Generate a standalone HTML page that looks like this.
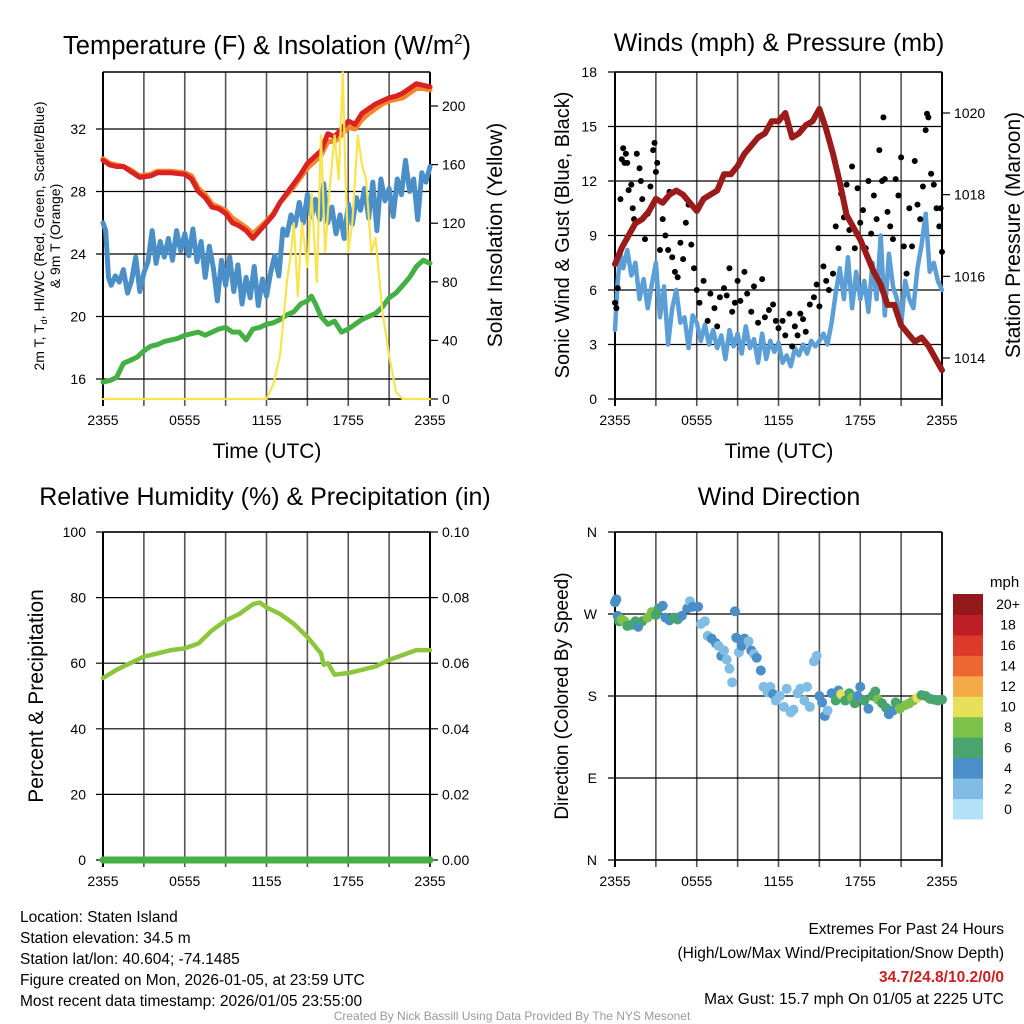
<!DOCTYPE html>
<html><head><meta charset="utf-8">
<style>
html,body{margin:0;padding:0;background:#fff;}
svg{display:block;font-family:"Liberation Sans",sans-serif;}
</style></head>
<body>
<svg id="chart" width="1024" height="1024" viewBox="0 0 1024 1024" xmlns="http://www.w3.org/2000/svg">
<rect width="1024" height="1024" fill="#fff"/>
<g id="layer"></g>
<!-- titles -->
<text x="267" y="54" font-size="25.5" text-anchor="middle">Temperature (F) &amp; Insolation (W/m<tspan font-size="15" dy="-10">2</tspan><tspan dy="10">)</tspan></text>
<text x="779" y="51" font-size="25" text-anchor="middle">Winds (mph) &amp; Pressure (mb)</text>
<text x="265" y="505" font-size="25" text-anchor="middle">Relative Humidity (%) &amp; Precipitation (in)</text>
<text x="779" y="505" font-size="25" text-anchor="middle">Wind Direction</text>
<!-- axis titles -->
<text transform="translate(44,236) rotate(-90)" font-size="14" text-anchor="middle">2m T, T<tspan font-size="9" dy="3">d</tspan><tspan dy="-3">, HI/WC (Red, Green, Scarlet/Blue)</tspan></text>
<text transform="translate(60,236) rotate(-90)" font-size="14" text-anchor="middle">&amp; 9m T (Orange)</text>
<text transform="translate(502,235) rotate(-90)" font-size="21" text-anchor="middle">Solar Insolation (Yellow)</text>
<text x="267" y="458" font-size="21" text-anchor="middle">Time (UTC)</text>
<text transform="translate(569,235) rotate(-90)" font-size="20" text-anchor="middle">Sonic Wind &amp; Gust (Blue, Black)</text>
<text transform="translate(1020,235) rotate(-90)" font-size="21" text-anchor="middle">Station Pressure (Maroon)</text>
<text x="779" y="458" font-size="21" text-anchor="middle">Time (UTC)</text>
<text transform="translate(43,696) rotate(-90)" font-size="21" text-anchor="middle">Percent &amp; Precipitation</text>
<text transform="translate(568,696) rotate(-90)" font-size="19" text-anchor="middle">Direction (Colored By Speed)</text>
<text x="990" y="587" font-size="15">mph</text>
<!-- footer -->
<g font-size="15.5">
<text x="20" y="922">Location: Staten Island</text>
<text x="20" y="943">Station elevation: 34.5 m</text>
<text x="20" y="964">Station lat/lon: 40.604; -74.1485</text>
<text x="20" y="985">Figure created on Mon, 2026-01-05, at 23:59 UTC</text>
<text x="20" y="1006">Most recent data timestamp: 2026/01/05 23:55:00</text>
</g>
<g font-size="15.5" text-anchor="end">
<text x="1004" y="934">Extremes For Past 24 Hours</text>
<text x="1004" y="958">(High/Low/Max Wind/Precipitation/Snow Depth)</text>
<text x="1004" y="982" fill="#cc1f1f" font-weight="bold">34.7/24.8/10.2/0/0</text>
<text x="1004" y="1004">Max Gust: 15.7 mph On 01/05 at 2225 UTC</text>
</g>
<text x="512" y="1020" font-size="12" fill="#999" text-anchor="middle">Created By Nick Bassill Using Data Provided By The NYS Mesonet</text>
</svg>
<script>
// ---------- data ----------
const timeTickLabels = ["2355","0555","1155","1755","2355"];
const tempHours = [0,0.5,1,1.5,2,2.7,3.5,4,5,6,6.5,7,7.5,8,8.5,9,9.5,10,10.5,11,11.5,12,12.5,13,13.5,14,14.5,15,15.5,16,16.5,17,17.5,18,18.5,19,19.5,20,20.5,21,21.5,22,22.5,23,23.5,24];
const tempRed = [30.0,29.7,29.6,29.6,29.3,28.9,29.0,29.2,29.2,29.1,28.8,28.0,27.6,27.0,26.9,26.6,26.0,25.8,25.5,25.0,25.5,26.0,26.5,27.3,27.9,28.5,29.1,29.8,30.2,30.6,31.7,31.5,32.0,32.5,32.3,33.0,33.3,33.6,33.8,34.0,34.1,34.3,34.6,34.9,34.8,34.7];
const tempOrange = [30.1,29.8,29.7,29.6,29.4,29.0,29.1,29.3,29.3,29.2,29.0,28.2,27.8,27.2,27.0,26.8,26.3,26.0,25.7,25.3,25.7,26.1,26.6,27.3,27.8,28.3,28.9,29.5,29.9,30.3,31.2,31.2,31.6,32.1,32.0,32.6,33.0,33.3,33.6,33.8,33.9,34.0,34.3,34.6,34.6,34.5];
const windChillHours = [0,0.2,0.4,0.6,0.9,1.2,1.5,1.8,2.1,2.4,2.7,3.0,3.3,3.6,3.9,4.2,4.5,4.8,5.1,5.4,5.7,6.0,6.3,6.6,6.9,7.2,7.5,7.8,8.1,8.4,8.7,9.0,9.3,9.6,9.9,10.2,10.5,10.8,11.1,11.4,11.7,12.0,12.3,12.6,12.9,13.0,13.2,13.5,13.8,14.1,14.4,14.7,15.0,15.3,15.6,15.9,16.2,16.5,16.8,17.1,17.4,17.7,18.0,18.3,18.6,18.9,19.2,19.5,19.8,20.1,20.4,20.7,21.0,21.3,21.6,21.9,22.2,22.5,22.8,23.1,23.4,23.7,24.0];
const windChill = [26.0,25.5,22.5,22.0,22.6,22.2,23.0,21.5,22.3,23.8,21.6,22.8,23.5,25.5,23.4,24.8,23.8,25.0,23.6,25.5,24.2,25.3,23.9,25.6,23.5,24.8,22.5,24.5,23.1,21.0,23.6,22.0,23.8,21.6,23.3,20.8,22.5,21.2,23.2,20.7,22.4,21.3,22.8,23.9,22.6,23.5,25.6,25.2,26.5,25.8,27.3,26.0,27.8,26.4,27.5,26.2,28.5,26.0,27.0,25.3,26.5,25.0,27.2,25.9,27.6,26.8,28.2,26.3,28.6,25.5,28.8,27.4,28.2,26.4,28.8,27.8,30.0,28.0,28.8,26.2,29.2,28.6,29.6];
const dewHours = [0,0.5,1,1.5,2,2.5,3,3.5,4,4.5,5,5.5,6,6.5,7,7.5,8,8.5,9,9.5,10,10.5,11,11.5,12,12.5,13,13.5,14,14.5,15,15.3,15.6,16,16.5,17,17.5,18,18.5,19,19.5,20,20.5,21,21.5,22,22.5,23,23.5,24];
const dewPoint = [15.8,15.9,16.1,17.0,17.2,17.4,17.8,18.1,18.2,18.4,18.5,18.6,18.8,18.9,19.0,18.8,19.0,19.2,19.3,19.0,19.0,18.5,19.2,19.3,19.5,19.6,19.8,20.1,20.3,20.8,21.0,21.3,20.8,20.0,19.5,19.7,19.0,19.2,19.5,19.8,20.0,20.2,20.6,21.2,21.5,22.0,22.5,23.2,23.6,23.4];
const solarHours = [0,12,12.5,13,13.5,13.8,14,14.3,14.6,15,15.3,15.7,16,16.3,16.6,17,17.3,17.6,17.8,18,18.3,18.7,19,19.3,19.7,20,20.5,21,21.5,22,24];
const solar = [0,0,10,30,80,100,120,70,120,90,140,80,180,100,140,180,150,223,150,100,120,180,160,150,100,110,60,30,5,0,0];
const windHours = [0,0.2,0.4,0.6,0.9,1.2,1.5,1.8,2.1,2.4,2.7,3.0,3.3,3.6,3.9,4.2,4.5,4.8,5.1,5.4,5.7,6.0,6.3,6.6,6.9,7.2,7.5,7.8,8.1,8.4,8.7,9.0,9.3,9.6,9.9,10.2,10.5,10.8,11.1,11.4,11.7,12.0,12.3,12.6,12.9,13.2,13.5,13.8,14.1,14.4,14.7,15.0,15.3,15.6,15.9,16.2,16.5,16.8,17.1,17.4,17.7,18.0,18.3,18.6,18.9,19.2,19.5,19.8,20.1,20.4,20.7,21.0,21.3,21.6,21.9,22.2,22.5,22.8,23.1,23.4,23.7,24.0];
const windSpeed = [3.8,6.5,8.0,7.2,8.2,6.8,7.5,5.5,6.6,5.0,6.3,7.5,4.5,6.2,3.0,5.0,6.0,4.2,4.5,2.8,4.6,4.2,3.2,4.1,3.0,3.8,2.8,3.5,2.2,3.8,2.9,3.6,2.5,4.0,2.8,3.3,2.0,3.6,2.2,3.2,2.6,3.1,2.0,2.4,1.8,2.8,2.4,3.0,2.5,3.2,2.9,3.2,3.6,3.0,4.2,5.8,7.2,5.5,7.8,5.0,7.0,5.5,6.5,4.8,7.5,5.5,9.0,4.6,8.0,6.2,5.5,4.0,6.5,5.5,5.0,7.2,8.5,10.2,7.0,7.5,6.5,6.0];
const gustHours = [0.0,0.1,0.2,0.4,0.5,0.6,0.7,0.8,0.9,1.0,1.2,1.3,1.4,1.6,1.8,1.9,2.0,2.2,2.4,2.6,2.8,2.9,3.0,3.1,3.3,3.5,3.7,3.9,4.0,4.2,4.4,4.6,4.8,5.0,5.2,5.4,5.6,5.8,6.0,6.2,6.5,6.8,7.0,7.3,7.5,7.7,8.0,8.2,8.4,8.6,8.8,9.0,9.2,9.5,9.7,10.0,10.2,10.5,10.8,11.0,11.3,11.6,11.8,12.0,12.3,12.5,12.8,13.0,13.2,13.4,13.6,13.8,14.0,14.3,14.6,14.8,15.0,15.3,15.5,15.7,16.0,16.2,16.4,16.6,16.8,17.0,17.2,17.4,17.6,17.8,18.0,18.2,18.4,18.6,18.8,19.0,19.2,19.4,19.6,19.7,19.8,20.0,20.2,20.4,20.6,20.8,21.0,21.2,21.4,21.6,21.8,22.0,22.2,22.4,22.6,22.8,22.9,23.0,23.2,23.4,23.6,23.8,23.9,24.0];
const gustSpeed = [5.3,5.0,6.1,11.0,13.2,13.8,13.0,13.5,13.0,11.5,11.8,10.5,9.9,13.5,12.7,12.0,11.0,8.8,10.2,11.7,13.7,14.1,12.5,13.0,8.2,9.9,9.0,8.2,11.4,7.8,7.0,6.7,8.6,7.7,9.7,10.7,8.5,7.2,6.0,5.3,6.5,4.3,5.8,5.0,4.0,5.6,6.1,5.7,7.2,4.8,5.3,6.5,5.4,7.0,5.8,4.8,6.2,4.2,6.6,4.5,4.9,5.2,4.3,3.9,4.3,3.5,4.7,2.9,4.0,3.5,4.7,4.4,3.7,5.2,5.6,6.3,5.1,7.3,6.5,6.0,6.9,9.5,8.3,11.3,10.0,11.8,9.3,12.8,8.3,11.6,9.7,10.4,8.3,12.0,9.1,11.2,9.9,13.7,12.0,15.5,12.1,10.3,9.5,8.8,12.1,11.2,13.3,8.4,6.9,10.5,8.4,13.1,10.7,9.9,11.7,14.8,15.7,15.5,12.4,11.8,10.5,9.5,10.5,8.1];
const pressHours = [0,0.5,1,1.5,2,2.5,3,3.5,4,4.5,5,5.5,6,6.5,7,7.5,8,8.5,9,9.5,10,10.5,11,11.5,12,12.5,13,13.5,14,14.5,15,15.5,16,16.5,17,17.5,18,18.5,19,19.5,20,20.5,21,21.5,22,22.5,23,23.5,24];
const pressure = [1016.3,1016.7,1017.0,1017.3,1017.4,1017.6,1017.9,1017.8,1018.0,1018.1,1018.0,1017.8,1017.6,1017.9,1018.0,1018.1,1018.5,1018.5,1018.7,1019.0,1019.2,1019.4,1019.5,1019.8,1019.8,1020.0,1019.4,1019.5,1019.7,1019.8,1020.1,1019.6,1019.0,1018.3,1017.5,1017.2,1016.9,1016.5,1016.1,1015.8,1015.3,1015.3,1014.8,1014.6,1014.4,1014.5,1014.3,1014.0,1013.7];
const rhHours = [0,1,2,3,4,5,6,7,8,9,10,11,11.5,12,13,14,15,16,16.2,16.5,17,18,19,20,21,22,23,24];
const rh = [55.5,58,60,62,63,64,64.5,66,70,73,75,78,78.5,77,75,72,68,63,59.5,60,56.5,57,58,59,61,62.5,64,64];
const precipHours = [0,24];
const precip = [0,0];
const dirHours = [0.0,0.1,0.2,0.3,0.5,0.7,0.9,1.2,1.5,1.7,2.0,2.4,2.7,3.0,3.2,3.5,3.7,4.0,4.3,4.6,4.9,5.3,5.5,5.7,6.1,6.3,6.6,6.8,7.1,7.4,7.6,7.8,8.0,8.2,8.4,8.6,8.8,8.9,9.1,9.3,9.5,9.8,10.0,10.2,10.4,10.7,10.9,11.2,11.4,11.6,11.8,12.1,12.4,12.6,12.9,13.1,13.4,13.6,13.9,14.1,14.3,14.6,14.8,15.0,15.2,15.4,15.6,15.9,16.2,16.4,16.6,16.9,17.2,17.4,17.6,17.8,18.0,18.3,18.6,18.9,19.1,19.3,19.6,19.9,20.1,20.4,20.6,20.9,21.3,21.6,21.9,22.2,22.5,22.8,23.1,23.4,23.7,24.0];
const dirDeg = [283,286,268,262,264,262,257,258,262,256,262,266,272,269,276,279,266,263,266,264,268,276,284,278,278,259,262,246,243,238,235,224,230,220,210,195,273,244,228,235,243,240,230,226,222,208,190,184,190,182,175,180,168,188,162,165,183,188,175,190,168,218,224,180,173,158,164,183,175,186,182,175,183,178,172,180,190,175,166,180,185,176,172,167,160,164,173,166,170,172,175,178,181,180,177,176,175,176];
const dirSpeed = [5,4,5,7,8,8,6,6,7,5,7,8,8,6,7,4,5,5,6,6,4,4,3,4,4,2,2,2,4,4,2,4,2,2,2,2,4,4,2,4,4,2,4,3,4,4,2,2,2,4,2,2,2,2,2,2,2,2,2,2,2,2,2,4,4,4,2,4,6,4,10,6,6,8,6,4,4,6,4,6,6,8,6,6,4,4,6,8,8,8,8,10,6,6,6,6,6,6];
const speedBinLabels = ["0","2","4","6","8","10","12","14","16","18","20+"];
const speedBinColors = ["#b3e2f7","#80bce4","#4a8fc7","#48a56e","#7dc14b","#e6e05b","#f5aa48","#ee6631","#dd3a2c","#be1e26","#93181b"];
const tempTicks = [16,20,24,28,32];
const solarTicks = [0,40,80,120,160,200];
const windTicks = [0,3,6,9,12,15,18];
const pressTicks = [1014,1016,1018,1020];
const rhTicks = [0,20,40,60,80,100];
const precipTicks = ["0.00","0.02","0.04","0.06","0.08","0.10"];
const dirTicks = ["N","E","S","W","N"];

// ---------- helpers ----------
const NS = "http://www.w3.org/2000/svg";
const layer = document.getElementById("layer");
function mk(tag, attrs, parent) {
  const el = document.createElementNS(NS, tag);
  for (const k in attrs) el.setAttribute(k, attrs[k]);
  (parent || layer).appendChild(el);
  return el;
}
function lin(d0, d1, r0, r1) { return v => r0 + (v - d0) * (r1 - r0) / (d1 - d0); }

const L0 = 103, L1 = 430, R0 = 615, R1 = 942;
const T0 = 72, T1 = 399, B0 = 532, B1 = 860;
const xL = lin(0, 24, L0, L1), xR = lin(0, 24, R0, R1);
const yTemp = lin(16, 32, 379, 129);
const ySolar = lin(0, 200, 399, 106);
const yWind = lin(0, 18, 399, 72);
const yPress = lin(1014, 1020, 358, 113);
const yRh = lin(0, 100, 860, 532);
const yPrecip = lin(0, 0.1, 860, 532);
const yDir = lin(0, 360, 860, 532);

function frame(x0, x1, y0, y1, yVals, yFn, name) {
  const g = mk("g", {});
  
  
  for (let i = 0; i <= 8; i++) {
    const x = x0 + i * (x1 - x0) / 8;
    const vl = mk("line", {x1: x, x2: x, y1: y0, y2: y1 + 7, stroke: i === 0 || i === 8 ? "#000" : "#555", "stroke-width": i === 0 ? 2 : 1.6}, g);
    
    
  }
  yVals.forEach(v => {
    const y = yFn(v);
    const hl = mk("line", {x1: x0 - 7, x2: x1, y1: y, y2: y, stroke: "#000", "stroke-width": 1.2}, g);
    
    
  });
  const top = mk("line", {x1: x0, x2: x1, y1: y0, y2: y0, stroke: "#000", "stroke-width": 1.5}, g);
  
  
  const bot = mk("line", {x1: x0, x2: x1, y1: y1, y2: y1, stroke: "#000", "stroke-width": 1.5}, g);
  
  
  timeTickLabels.forEach((t, i) => {
    const tx = mk("text", {x: x0 + i * (x1 - x0) / 4, y: y1 + 26, "font-size": 14, "text-anchor": "middle"}, g);
    tx.textContent = t;
    
    
  });
}
function leftLabels(vals, fn, x, labels) {
  vals.forEach((v, i) => {
    const t = mk("text", {x: x, y: fn(v) + 5, "font-size": 14, "text-anchor": "end"});
    t.textContent = labels ? labels[i] : v;
    
    
  });
}
function rightAxis(vals, fn, x, labels, minorStep, lo, hi) {
  vals.forEach((v, i) => {
    const tk = mk("line", {x1: x, x2: x + 8, y1: fn(v), y2: fn(v), stroke: "#000", "stroke-width": 1.2});
    
    
    const t = mk("text", {x: x + 12, y: fn(v) + 5, "font-size": 14});
    t.textContent = labels ? labels[i] : v;
    
    
  });
  const ax = mk("line", {x1: x, x2: x, y1: fn(hi), y2: fn(lo), stroke: "#000", "stroke-width": 2});
  
  
}
function path(xs, ys, xf, yf, color, w, name) {
  const d = xs.map((h, i) => (i ? "L" : "M") + xf(h).toFixed(1) + "," + yf(ys[i]).toFixed(1)).join("");
  const p = mk("path", {d: d, fill: "none", stroke: color, "stroke-width": w, "stroke-linejoin": "round", "stroke-linecap": "round"});
  
  
  return p;
}

// ---------- panel 1: temperature ----------
frame(L0, L1, T0, T1, tempTicks, yTemp, "temperature");
leftLabels(tempTicks, yTemp, 86);
rightAxis(solarTicks, ySolar, L1, null, 0, 0, 223);
path(tempHours, tempOrange, xL, yTemp, "#f5852a", 5, "9m-temperature-line");
path(tempHours, tempRed, xL, yTemp, "#d92323", 5, "2m-temperature-line");
path(windChillHours, windChill, xL, yTemp, "#4a8fc7", 5, "wind-chill-line");
path(dewHours, dewPoint, xL, yTemp, "#44b044", 5, "dewpoint-line");
path(solarHours, solar, xL, ySolar, "#f7e44f", 2.2, "solar-insolation-line");

// ---------- panel 2: winds ----------
frame(R0, R1, T0, T1, windTicks, yWind, "winds");
leftLabels(windTicks, yWind, 597);
rightAxis(pressTicks, yPress, R1, null, 0, 1013, 1021);
path(windHours, windSpeed, xR, yWind, "#5b9fd6", 4.5, "sonic-wind-line");
gustHours.forEach((h, i) => {
  const c = mk("circle", {cx: xR(h), cy: yWind(gustSpeed[i]), r: 3, fill: "#000"});
  
  
});
path(pressHours, pressure, xR, yPress, "#9b1b1b", 6, "station-pressure-line");

// ---------- panel 3: humidity ----------
frame(L0, L1, B0, B1, rhTicks, yRh, "humidity");
leftLabels(rhTicks, yRh, 86);
rightAxis([0, 0.02, 0.04, 0.06, 0.08, 0.1], yPrecip, L1, precipTicks, 0, 0, 0.1);
path(rhHours, rh, xL, yRh, "#8cc63f", 4.5, "relative-humidity-line");
path(precipHours, precip, xL, yPrecip, "#44b044", 7, "precipitation-line");

// ---------- panel 4: wind direction ----------
frame(R0, R1, B0, B1, [0, 90, 180, 270, 360], yDir, "wind-direction");
leftLabels([0, 90, 180, 270, 360], yDir, 597, dirTicks);
const ra = mk("line", {x1: R1, x2: R1, y1: B0, y2: B1, stroke: "#000", "stroke-width": 1.5});


dirHours.forEach((h, i) => {
  const bin = Math.min(10, Math.floor(dirSpeed[i] / 2));
  const c = mk("circle", {cx: xR(h), cy: yDir(dirDeg[i]), r: 5, fill: speedBinColors[bin]});
  
  
});
// colorbar
const cbTop = 594, cbH = 225 / 11;
speedBinColors.forEach((col, i) => {
  const y = cbTop + (10 - i) * cbH;
  const r = mk("rect", {x: 953, y: y, width: 30, height: cbH + 0.5, fill: col});
  
  
  const t = mk("text", {x: 1008, y: y + cbH / 2 + 5, "font-size": 14, "text-anchor": "middle"});
  t.textContent = speedBinLabels[i];
  
  
});
</script>
</body></html>
